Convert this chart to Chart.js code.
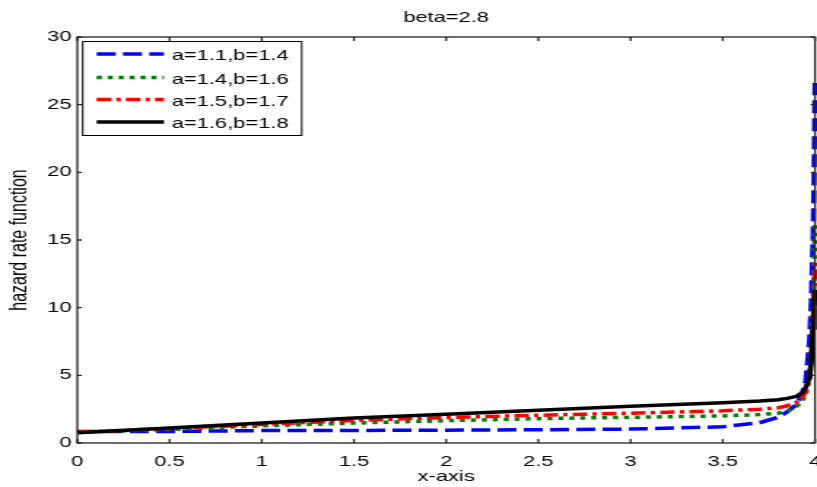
<!DOCTYPE html>
<html lang="en">
<head>
<meta charset="UTF-8">
<title>beta=2.8</title>
<script src="https://cdn.jsdelivr.net/npm/chart.js"></script>
<style>
    html, body { margin: 0; padding: 0; background: #fff; }
</style>
</head>
<body>
<!-- the figure is drawn at 560 wide and stretched to 817, like the original export -->
<canvas id="hazardChart" width="560" height="487" style="display:block;width:817px;height:487px"></canvas>
<script>
    // x positions and curve values
    const xValues = [0, 0.5, 1, 1.5, 2, 2.5, 3, 3.5, 3.7, 3.8, 3.85, 3.9, 3.93, 3.95, 3.97, 3.98, 3.99, 3.995, 4];
    const blueValues = [0.85, 0.85, 0.92, 0.93, 0.95, 0.98, 1.03, 1.2, 1.5, 1.9, 2.3, 2.85, 3.6, 4.6, 7.5, 10.5, 15.5, 20, 26.6];
    const greenValues = [0.8, 1.0, 1.27, 1.47, 1.65, 1.8, 1.9, 2.0, 2.1, 2.2, 2.35, 2.7, 3.1, 3.6, 4.8, 6.5, 10, 13, 16.1];
    const redValues = [0.8, 1.07, 1.37, 1.67, 1.88, 2.05, 2.2, 2.38, 2.5, 2.6, 2.75, 3.0, 3.35, 3.8, 4.8, 6.2, 9, 11, 13.4];
    const blackValues = [0.75, 1.1, 1.47, 1.84, 2.12, 2.42, 2.72, 2.98, 3.1, 3.2, 3.3, 3.45, 3.7, 4.1, 4.8, 6.0, 8.5, 10, 11.3];
    const seriesLabels = ['a=1.1,b=1.4', 'a=1.4,b=1.6', 'a=1.5,b=1.7', 'a=1.6,b=1.8'];

    const chartTitle = 'beta=2.8';
    const fontFamily = "'Liberation Sans', Arial, Helvetica, sans-serif";

    function toPoints(ys) {
        return xValues.map((x, i) => ({ x: x, y: ys[i] }));
    }

    // box, inward ticks, title and legend in the matlab style
    const matlabFrame = {
        id: 'matlabFrame',
        afterDraw(chart) {
            const ctx = chart.ctx;
            const a = chart.chartArea;
            const xs = chart.scales.x;
            const ys = chart.scales.y;
            ctx.save();
            ctx.strokeStyle = '#222';
            ctx.lineWidth = 1.3;
            ctx.setLineDash([]);
            ctx.strokeRect(a.left, a.top, a.right - a.left, a.bottom - a.top);

            ctx.beginPath();
            xs.ticks.forEach(t => {
                const px = xs.getPixelForValue(t.value);
                ctx.moveTo(px, a.bottom);
                ctx.lineTo(px, a.bottom - 4);
                ctx.moveTo(px, a.top);
                ctx.lineTo(px, a.top + 4);
            });
            ys.ticks.forEach(t => {
                const py = ys.getPixelForValue(t.value);
                ctx.moveTo(a.left, py);
                ctx.lineTo(a.left + 3, py);
                ctx.moveTo(a.right, py);
                ctx.lineTo(a.right - 3, py);
            });
            ctx.stroke();

            // title
            ctx.fillStyle = '#000';
            ctx.font = '15px ' + fontFamily;
            ctx.textAlign = 'center';
            ctx.textBaseline = 'middle';
            ctx.fillText(chartTitle, (a.left + a.right) / 2, 18);

            // legend box
            const box = { left: 56.7, top: 41.5, right: 206.8, bottom: 135.5 };
            ctx.fillStyle = '#fff';
            ctx.fillRect(box.left, box.top, box.right - box.left, box.bottom - box.top);
            ctx.strokeStyle = '#000';
            ctx.lineWidth = 1;
            ctx.strokeRect(box.left, box.top, box.right - box.left, box.bottom - box.top);

            const rows = [54, 77.5, 99.5, 122];
            chart.data.datasets.forEach((ds, i) => {
                const y = rows[i];
                ctx.beginPath();
                ctx.strokeStyle = ds.borderColor;
                ctx.lineWidth = ds.borderWidth;
                ctx.lineCap = 'butt';
                ctx.setLineDash(ds.borderDash || []);
                ctx.moveTo(66.3, y);
                ctx.lineTo(112.4, y);
                ctx.stroke();
                ctx.setLineDash([]);
                ctx.fillStyle = '#000';
                ctx.textAlign = 'left';
                ctx.fillText(ds.label, 117.7, y + 2);
            });
            ctx.restore();
        }
    };

    const ctx = document.getElementById('hazardChart').getContext('2d');
    new Chart(ctx, {
        type: 'line',
        data: {
            datasets: [
                { label: seriesLabels[0], data: toPoints(blueValues), borderColor: '#0000ff', borderWidth: 3.5, borderDash: [13, 5], order: 4 },
                { label: seriesLabels[1], data: toPoints(greenValues), borderColor: '#008000', borderWidth: 3.5, borderDash: [3.5, 4], order: 3 },
                { label: seriesLabels[2], data: toPoints(redValues), borderColor: '#ff0000', borderWidth: 3.5, borderDash: [10, 3.5, 3, 3.5], order: 2 },
                { label: seriesLabels[3], data: toPoints(blackValues), borderColor: '#000000', borderWidth: 3.5, order: 1 }
            ]
        },
        options: {
            responsive: false,
            animation: false,
            layout: { padding: { top: 37, right: 1.4, bottom: 0, left: 0 } },
            font: { family: fontFamily },
            elements: {
                point: { radius: 0 },
                line: { tension: 0, borderCapStyle: 'butt', fill: false }
            },
            datasets: { line: { clip: false } },
            plugins: {
                legend: { display: false },
                title: { display: false },
                tooltip: { enabled: false }
            },
            scales: {
                x: {
                    type: 'linear',
                    min: 0,
                    max: 4,
                    grid: { display: false, drawTicks: false },
                    border: { display: false },
                    ticks: {
                        stepSize: 0.5, color: '#000', padding: 10, maxRotation: 0,
                        font: { family: fontFamily, size: 15 },
                        callback: v => String(v)
                    },
                    title: { display: true, text: 'x-axis', color: '#000', padding: { top: 1, bottom: 1 }, font: { family: fontFamily, size: 15 } },
                    afterFit: s => { s.height = 44; s.paddingLeft = 0; s.paddingRight = 0; }
                },
                y: {
                    min: 0,
                    max: 30,
                    grid: { display: false, drawTicks: false },
                    border: { display: false },
                    ticks: {
                        stepSize: 5, color: '#000', padding: 4,
                        font: { family: fontFamily, size: 15 },
                        callback: v => String(v)
                    },
                    title: { display: true, text: 'hazard rate function', color: '#000', padding: { top: 4, bottom: 4 }, font: { family: fontFamily, size: 16 } },
                    afterFit: s => { s.width = 53; }
                }
            }
        },
        plugins: [matlabFrame]
    });
</script>
</body>
</html>
